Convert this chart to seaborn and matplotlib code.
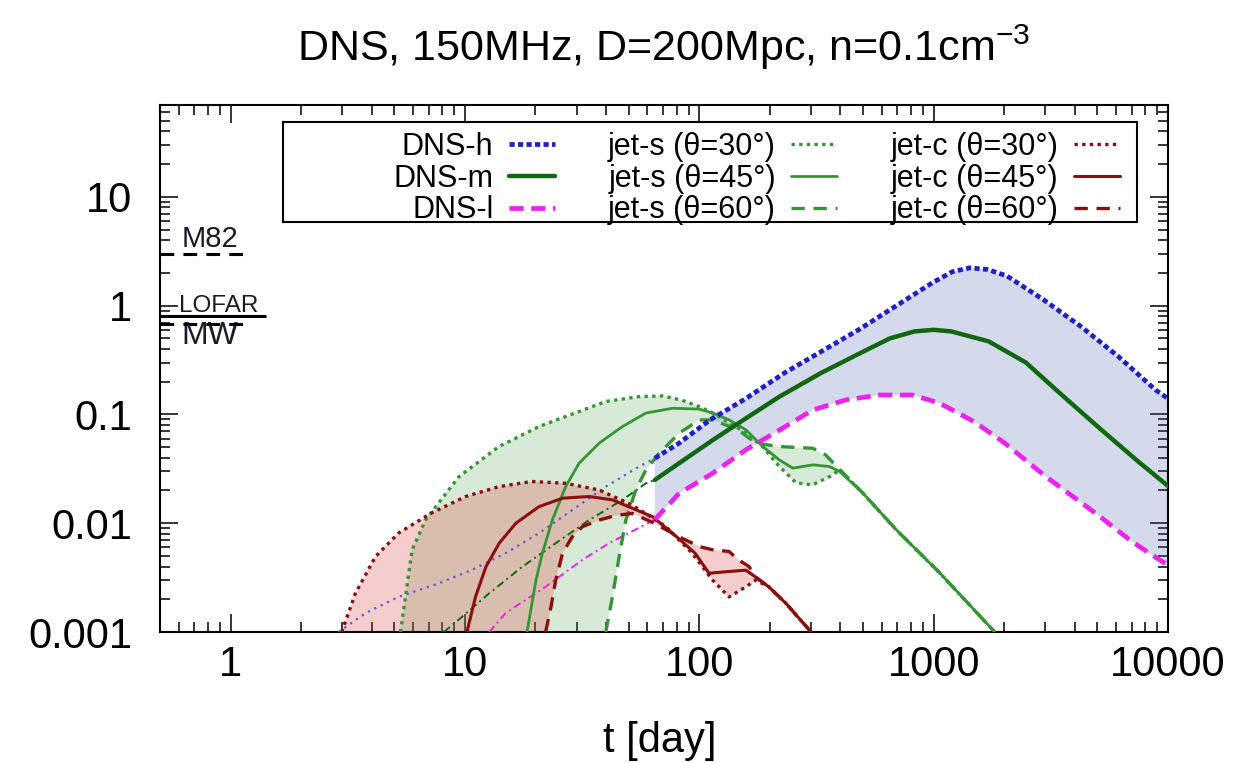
import numpy as np
import matplotlib
matplotlib.use("Agg")
import matplotlib.pyplot as plt
import seaborn as sns
from matplotlib.ticker import LogLocator, NullFormatter, FixedLocator, FixedFormatter
from matplotlib.patches import Rectangle

# ---------------- data ----------------
# DNS merger ejecta, early (thin) parts
dnsh_early_t = [2.89, 3.76, 5.22, 7.74, 10.7, 14.9, 20.7, 28.7, 39.9, 55.4, 64.6]
dnsh_early_f = [0.001, 0.00149, 0.00211, 0.0028, 0.00372, 0.0053, 0.0081, 0.0132, 0.0217, 0.0332, 0.0396]
dnsm_early_t = [8.13, 9.73, 12.7, 17.6, 24.4, 33.9, 47.0, 59.2, 64.6]
dnsm_early_f = [0.001, 0.00138, 0.00227, 0.00399, 0.00655, 0.0107, 0.0164, 0.0233, 0.025]
dnsl_early_t = [12.7, 14.9, 22.1, 31.7, 41.2, 64.6]
dnsl_early_f = [0.001, 0.00149, 0.00261, 0.0046, 0.00655, 0.0108]

# DNS merger ejecta, main (thick) parts
dnsh_t = [64.6, 82, 111, 158, 231, 478, 990, 1200, 1425, 1700, 2051, 2951, 4248, 6141, 8852, 10000]
dnsh_f = [0.0396, 0.0545, 0.089, 0.14, 0.241, 0.60, 1.63, 2.05, 2.23, 2.15, 1.88, 1.13, 0.644, 0.341, 0.168, 0.14]
dnsm_t = [64.6, 82, 114, 158, 220, 330, 478, 650, 827, 1000, 1190, 1717, 2476, 3536, 5095, 7346, 10000]
dnsm_f = [0.025, 0.0356, 0.058, 0.092, 0.146, 0.24, 0.36, 0.5, 0.58, 0.6, 0.58, 0.47, 0.3, 0.15, 0.075, 0.038, 0.022]
dnsl_t = [64.6, 82, 114, 158, 220, 305, 422, 587, 813, 1061, 1500, 2000, 3000, 5000, 7000, 10000]
dnsl_f = [0.0108, 0.0188, 0.0288, 0.0473, 0.072, 0.11, 0.136, 0.151, 0.151, 0.127, 0.085, 0.055, 0.027, 0.012, 0.0068, 0.0041]

# jet-s (sideways)
js30_t = [5.31, 5.95, 6.79, 9.43, 13.97, 20.7, 26.9, 39.9, 55.4, 70, 84.6, 100, 113.6, 134.4, 158.4, 185.9,
          219.6, 258.9, 304, 359.5, 398, 498, 693, 1061, 1823]
js30_f = [0.001, 0.00567, 0.0107, 0.0268, 0.0507, 0.0774, 0.0957, 0.1315, 0.146, 0.148, 0.135, 0.118, 0.1035,
          0.0838, 0.0678, 0.0507, 0.0332, 0.0235, 0.0225, 0.0268, 0.0309, 0.019, 0.00867, 0.00349, 0.001]
js45_t = [18.4, 20.1, 21.4, 23.6, 26.9, 30.7, 37.4, 47.0, 59.2, 76.9, 100, 114, 134.4, 158.4, 186.4, 219.6,
          250.5, 305, 359.5, 398, 498, 693, 1061, 1823]
js45_f = [0.001, 0.003, 0.0053, 0.0107, 0.0217, 0.0356, 0.0545, 0.0774, 0.103, 0.114, 0.112, 0.103, 0.089,
          0.072, 0.0507, 0.0382, 0.0321, 0.0344, 0.0332, 0.0298, 0.019, 0.0087, 0.0035, 0.001]
js60_t = [39.9, 42.6, 45.5, 48.6, 53.6, 59.2, 67.5, 82.1, 100, 114, 147, 174, 219.6, 305, 346, 398, 498, 693,
          1061, 1823]
js60_f = [0.001, 0.00211, 0.00493, 0.0107, 0.0202, 0.0309, 0.044, 0.0673, 0.089, 0.089, 0.072, 0.0545, 0.0507,
          0.0489, 0.0425, 0.031, 0.019, 0.0087, 0.0035, 0.001]

# jet-c (cocoon)
jc30_t = [2.98, 3.41, 4.15, 5.22, 7.22, 10.07, 13.97, 19.3, 26.9, 37.4, 51.7, 72.1, 93.3, 114, 134, 158, 174,
          198, 234, 300]
jc30_f = [0.001, 0.00227, 0.00493, 0.00815, 0.01245, 0.0176, 0.0217, 0.0242, 0.0233, 0.0202, 0.0147, 0.0093,
          0.0053, 0.003, 0.0021, 0.0026, 0.003, 0.0026, 0.00184, 0.001]
jc45_t = [10.2, 11.1, 12.3, 14.0, 16.5, 20.7, 26.1, 33.9, 42.6, 51.9, 63.1, 76.9, 96, 110, 134, 158, 174, 198,
          234, 300]
jc45_f = [0.001, 0.00211, 0.00399, 0.00655, 0.01, 0.0142, 0.017, 0.0176, 0.0164, 0.0137, 0.0115, 0.0081,
          0.0053, 0.00347, 0.0036, 0.0037, 0.0032, 0.0026, 0.00184, 0.001]
jc60_t = [22.1, 23.3, 24.4, 26.1, 28.7, 31.7, 37.4, 44.1, 51.9, 63, 82, 100, 114, 134, 147, 163, 174, 198, 234, 300]
jc60_f = [0.001, 0.0017, 0.003, 0.0053, 0.0075, 0.0093, 0.0107, 0.0118, 0.0123, 0.0102, 0.0075, 0.0061,
          0.0057, 0.0055, 0.0046, 0.004, 0.0032, 0.0026, 0.00184, 0.001]

# reference fluxes
ref_names = ["M82", "LOFAR", "MW"]
ref_flux = [3.0, 0.8, 0.68]

x_ticks = [1, 10, 100, 1000, 10000]
x_tick_labels = ["1", "10", "100", "1000", "10000"]
y_ticks = [0.001, 0.01, 0.1, 1, 10]
y_tick_labels = ["0.001", "0.01", "0.1", "1", "10"]

title = "DNS, 150MHz, D=200Mpc, n=0.1cm$^{-3}$"
xlabel = "t [day]"
labels = ["DNS-h", "DNS-m", "DNS-l",
          "jet-s (\u03b8=30\u00b0)", "jet-s (\u03b8=45\u00b0)", "jet-s (\u03b8=60\u00b0)",
          "jet-c (\u03b8=30\u00b0)", "jet-c (\u03b8=45\u00b0)", "jet-c (\u03b8=60\u00b0)"]

# ---------------- style ----------------
sns.set_theme(style="ticks")
plt.rcParams["font.family"] = ["Liberation Sans", "DejaVu Sans"]
plt.rcParams["mathtext.fontset"] = "custom"
plt.rcParams["mathtext.rm"] = "Liberation Sans"
plt.rcParams["mathtext.it"] = "Liberation Sans:italic"
plt.rcParams["mathtext.bf"] = "Liberation Sans:bold"
plt.rcParams["text.color"] = "black"
plt.rcParams["xtick.labelcolor"] = "black"
plt.rcParams["ytick.labelcolor"] = "black"

W, H = 1247, 763
fig = plt.figure(figsize=(W / 100, H / 100), dpi=100)
L, R, T, B = 160, 1168, 105, 632
ax = fig.add_axes([L / W, 1 - B / H, (R - L) / W, (B - T) / H])
ax.set_xscale("log")
ax.set_yscale("log")

BLUE = "#1f1fc8"
DGREEN = "#0f680f"
GREEN = "#359535"
DRED = "#8a0e0e"
MAG = "#ee22ee"


def band(t1, f1, t2, f2, color, alpha):
    xs = list(t1) + list(t2)[::-1]
    ys = list(f1) + list(f2)[::-1]
    ax.fill(xs, ys, color=color, alpha=alpha, lw=0, zorder=1)


band(dnsh_t, dnsh_f, dnsl_t, dnsl_f, "#5060b0", 0.24)
band(js30_t, js30_f, js60_t, js60_f, "#5aaa5a", 0.24)
band(jc30_t, jc30_f, jc60_t, jc60_f, "#e04040", 0.26)


def line(t, f, color, lw, ls, label=None, z=3):
    kw = dict(x=t, y=f, ax=ax, color=color, linewidth=lw, linestyle=ls,
              estimator=None, sort=False, errorbar=None, zorder=z)
    if label is not None:
        kw["label"] = label
    sns.lineplot(**kw)


# thin early parts
line(dnsh_early_t, dnsh_early_f, "#5a5ad8", 1.6, (0, (1, 2.2)))
line(dnsm_early_t, dnsm_early_f, DGREEN, 1.4, (0, (4, 2, 1, 2)))
line(dnsl_early_t, dnsl_early_f, MAG, 1.4, (0, (4, 2, 1, 2)))

# labelled curves (legend order)
line(dnsh_t, dnsh_f, BLUE, 3.4, (0, (1.1, 0.7)), labels[0], 4)
line(dnsm_t, dnsm_f, DGREEN, 3.2, "-", labels[1], 4)
line(dnsl_t, dnsl_f, MAG, 3.4, (0, (3, 1.6)), labels[2], 4)
line(js30_t, js30_f, GREEN, 2.4, (0, (1, 1.3)), labels[3])
line(js45_t, js45_f, GREEN, 2.0, "-", labels[4])
line(js60_t, js60_f, GREEN, 2.4, (0, (4, 2.6)), labels[5])
line(jc30_t, jc30_f, DRED, 2.4, (0, (1, 1.3)), labels[6])
line(jc45_t, jc45_f, DRED, 2.2, "-", labels[7])
line(jc60_t, jc60_f, DRED, 2.4, (0, (4, 2.6)), labels[8])

# reference flux levels
ref_xend = [1.14, 1.42, 1.14]
ref_ls = [(0, (4.5, 3)), "-", (0, (4.5, 3))]
for i in range(3):
    ax.hlines(ref_flux[i], 0.5, ref_xend[i], colors="black", linewidth=2.2,
              linestyles=[ref_ls[i]], zorder=5, clip_on=False)
ax.text(0.617, 3.48, ref_names[0], fontsize=21, va="baseline", ha="left", color="#1a1a2a")
ax.text(0.60, 0.88, ref_names[1], fontsize=17.5, va="baseline", ha="left", color="#1a1a2a")
ax.text(0.617, 0.72, ref_names[2], fontsize=23, va="top", ha="left", color="#1a1a2a")

# axes
ax.set_xlim(0.5, 10000)
ax.set_ylim(0.001, 70)
ax.xaxis.set_major_locator(FixedLocator(x_ticks))
ax.xaxis.set_major_formatter(FixedFormatter(x_tick_labels))
ax.yaxis.set_major_locator(FixedLocator(y_ticks))
ax.yaxis.set_major_formatter(FixedFormatter(y_tick_labels))
for axis in (ax.xaxis, ax.yaxis):
    axis.set_minor_locator(LogLocator(base=10, subs=np.arange(2, 10), numticks=30))
    axis.set_minor_formatter(NullFormatter())
ax.tick_params(which="both", direction="in", top=True, right=True, colors="black",
               labelcolor="black", width=1.1, labelsize=30)
ax.tick_params(which="major", length=13)
ax.tick_params(which="minor", length=7)
ax.tick_params(axis="x", which="major", pad=9)
ax.tick_params(axis="y", which="major", pad=20)
for s in ax.spines.values():
    s.set_linewidth(1.5)
    s.set_color("black")
ax.set_xlabel("")
ax.set_ylabel("")
ax.grid(False)

# legend
h, l = ax.get_legend_handles_labels()
leg = ax.legend(h, l, ncol=3, loc="upper right", bbox_to_anchor=(0.952, 0.9485),
                frameon=False, markerfirst=False, fontsize=22, handlelength=1.5,
                handletextpad=0.5, columnspacing=1.75, labelspacing=0.05,
                borderpad=0, borderaxespad=0)
for txt in leg.get_texts():
    txt.set_color("black")
ax.add_patch(Rectangle((0.122, 0.778), 0.847, 0.19, transform=ax.transAxes, fill=False,
                       ec="black", lw=1.5, zorder=6))

fig.text(664 / W, 1 - 61 / H, title, ha="center", va="baseline", fontsize=31, color="black")
fig.text(660 / W, 1 - 752 / H, xlabel, ha="center", va="baseline", fontsize=30, color="black")

fig.savefig("out.png", dpi=100)
